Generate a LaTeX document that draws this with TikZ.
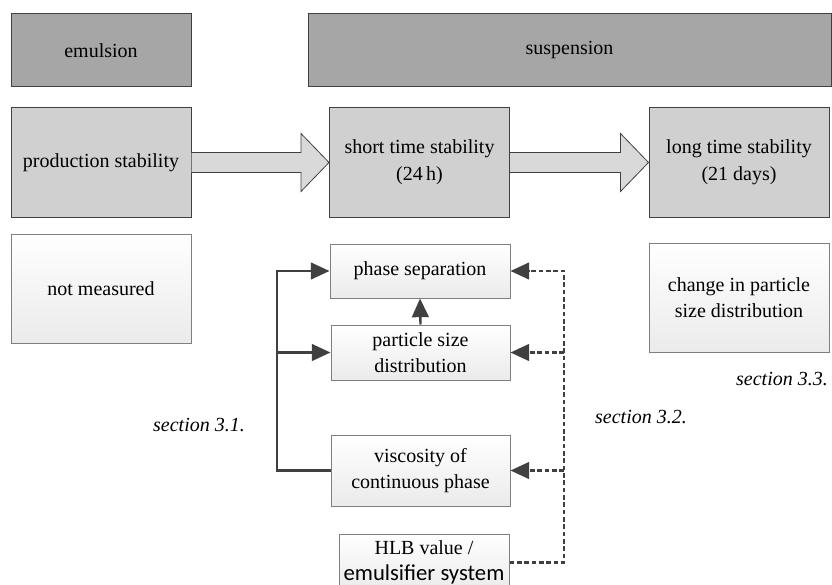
\documentclass[tikz,border=0pt]{standalone}
\usepackage{fontspec}
\setmainfont{Liberation Serif}
\newfontfamily\carlito{Carlito}
\usetikzlibrary{calc,arrows.meta}

\definecolor{darkbox}{HTML}{A6A6A6}
\definecolor{midbox}{HTML}{D0D0D0}
\definecolor{arrowfill}{HTML}{D9D9D9}
\definecolor{boxline}{HTML}{404040}
\definecolor{lightline}{HTML}{7F7F7F}
\definecolor{linkcol}{HTML}{404040}

\tikzset{
  phasebox/.style={draw=boxline, fill=darkbox, line width=0.75pt, minimum width=135pt, minimum height=54.75pt, inner sep=0pt},
  stagebox/.style={draw=boxline, fill=midbox, line width=0.75pt, minimum width=135pt, minimum height=81.75pt, align=center, inner sep=0pt},
  resultbox/.style={draw=lightline, top color=white, bottom color=black!8, line width=0.75pt, minimum width=135pt, align=center, inner sep=0pt},
  blockarrow/.style={draw=boxline, fill=arrowfill, line width=0.6pt, line join=miter},
  solidlink/.style={draw=linkcol, line width=1.8pt, -{Triangle[length=14pt,width=12.5pt]}},
  dashlink/.style={draw=linkcol, line width=1.8pt, dash pattern=on 3.5pt off 2pt, -{Triangle[length=14pt,width=12.5pt]}},
  seclabel/.style={font=\fontsize{15}{20}\selectfont\itshape}
}

\begin{document}
\begin{tikzpicture}[x=0.75pt, y=-0.75pt, font=\fontsize{15}{20}\selectfont]

    % Page frame (pixels of the original layout)
    \clip (0,0) rectangle (832,585);

    % Phase headers
    \node[phasebox] (emu) at (101,50.5) {emulsion};
    \node[phasebox, minimum width=392.25pt] (susp) at (569.5,50.5) {suspension};

    % Stability stages
    \node[stagebox] (prod) at (101,162.5) {production stability};
    \node[stagebox] (short) at (419.5,162.5) {short time stability\\(24\,h)};
    \node[stagebox] (long) at (739,162.5) {long time stability\\(21 days)};

    % Block arrows between the stages
    \path[blockarrow] ($(prod.east)+(0,-10)$) -- ($(short.west)+(-28,-10)$) -- ($(short.west)+(-28,-29)$)
        -- (short.west) -- ($(short.west)+(-28,29)$) -- ($(short.west)+(-28,10)$) -- ($(prod.east)+(0,10)$);
    \path[blockarrow] ($(short.east)+(0,-10)$) -- ($(long.west)+(-28,-10)$) -- ($(long.west)+(-28,-29)$)
        -- (long.west) -- ($(long.west)+(-28,29)$) -- ($(long.west)+(-28,10)$) -- ($(short.east)+(0,10)$);

    % What is measured
    \node[resultbox, minimum height=81.75pt] (notm) at (101,288.5) {not measured};
    \node[resultbox, minimum height=40.5pt] (phase) at (420,271) {phase separation};
    \node[resultbox, minimum height=41.25pt, minimum width=134.25pt] (psd) at (420.5,352.5) {particle size\\distribution};
    \node[resultbox, minimum height=53.25pt, minimum width=134.25pt] (visc) at (420.5,470.5) {viscosity of\\continuous phase};
    \node[resultbox, minimum height=42.75pt, minimum width=127.5pt] (hlb) at (424,562.5) {HLB value /\\{\carlito\fontsize{17}{20}\selectfont emulsifier system}};
    \node[resultbox, minimum height=81.75pt] (chg) at (739,297.5) {change in particle\\size distribution};

    % Bus lines
    \coordinate (busTop) at (277,271);    % solid bus, left
    \coordinate (dashTop) at (564,271);   % dashed bus, right

    \draw[solidlink] (visc.west) -- (visc.west -| busTop) -- (busTop) -- (phase.west);
    \draw[solidlink] (busTop |- psd.west) -- (psd.west);
    \draw[solidlink] (psd.north) -- (phase.south);

    \draw[dashlink] (hlb.east) -- (hlb.east -| dashTop) -- (dashTop) -- (phase.east);
    \draw[dashlink] (dashTop |- psd.east) -- (psd.east);
    \draw[dashlink] (dashTop |- visc.east) -- (visc.east);

    % Section references
    \node[seclabel] (sec31) at (199,425) {section 3.1.};
    \node[seclabel] (sec32) at (641,417) {section 3.2.};
    \node[seclabel] (sec33) at (782,379) {section 3.3.};

\end{tikzpicture}
\end{document}
